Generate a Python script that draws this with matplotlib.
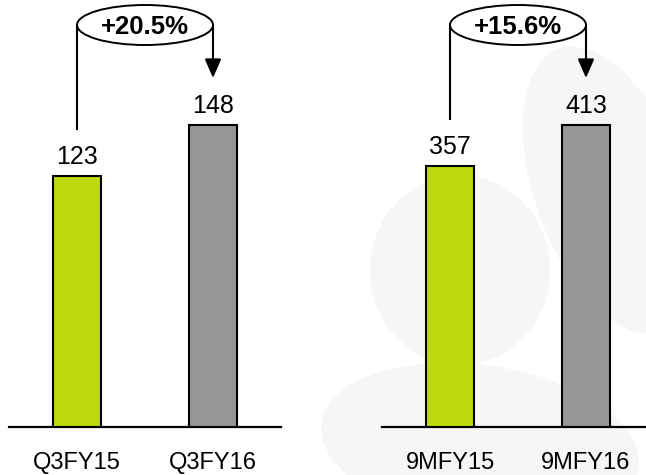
import matplotlib.pyplot as plt
import matplotlib.transforms as mtransforms
from matplotlib.patches import Ellipse
from matplotlib.lines import Line2D

plt.rcParams['font.family'] = ['Liberation Sans', 'DejaVu Sans']

# data
left_labels = ["Q3FY15", "Q3FY16"]
left_values = [123, 148]
left_growth = "+20.5%"

right_labels = ["9MFY15", "9MFY16"]
right_values = [357, 413]
right_growth = "+15.6%"

bar_colors = ["#bdd80b", "#969696"]

W, H = 646, 475
BASE = 427          # baseline, px from top
STEP = 136          # px between bar centres
px = mtransforms.IdentityTransform()

fig = plt.figure(figsize=(W / 100, H / 100), dpi=100)

# faint logo watermark in the background
for cx, cy, w, h, ang in [(460, 270, 180, 190, 0), (480, 445, 320, 160, -8),
                          (610, 190, 150, 300, 20)]:
    fig.add_artist(Ellipse((cx, H - cy), w, h, angle=ang, transform=px,
                           color="#f6f6f6", lw=0, zorder=0))


def panel(x0, x1, cats, vals, growth):
    ax = fig.add_axes([x0 / W, (H - BASE) / H, (x1 - x0) / W, BASE / H])
    ax.set_facecolor("none")
    xs = list(range(len(cats)))
    ax.bar(xs, vals, width=48 / STEP, color=bar_colors, edgecolor="black",
           linewidth=1.5, zorder=3)
    ax.set_xlim(-0.5, (x1 - x0) / STEP - 0.5)
    ax.set_ylim(0, max(vals) * BASE / 302)
    for s in ["top", "left", "right"]:
        ax.spines[s].set_visible(False)
    ax.spines["bottom"].set_linewidth(1.6)
    ax.set_yticks([])
    ax.set_xticks([])
    for x, v, c in zip(xs, vals, cats):
        ax.annotate(str(v), (x, v), xytext=(0, 12 * 0.72), textcoords="offset points",
                    ha="center", va="baseline", fontsize=18)
        # category label, baseline ~42 px below the axis line
        ax.annotate(c, (x, 0), xytext=(0, -42 * 0.72), textcoords="offset points",
                    ha="center", va="baseline", fontsize=17, annotation_clip=False)

    # growth arrow with ellipse label
    p0 = ax.transData.transform((xs[0], vals[0]))
    p1 = ax.transData.transform((xs[1], vals[1]))
    ey = H - 25
    fig.add_artist(Line2D([p0[0], p0[0]], [p0[1] + 47, ey], transform=px,
                          color="black", lw=1.5, zorder=4))
    ax.annotate("", xy=(p1[0], p1[1] + 47), xytext=(p1[0], ey),
                xycoords="figure pixels", textcoords="figure pixels",
                arrowprops=dict(arrowstyle="-|>,head_length=1.15,head_width=0.5",
                                mutation_scale=10, lw=1.5, color="black",
                                shrinkA=0, shrinkB=0), zorder=4)
    fig.add_artist(Ellipse(((p0[0] + p1[0]) / 2, ey), p1[0] - p0[0], 40,
                           transform=px, fc="white", ec="black", lw=1.4, zorder=5))
    fig.text((p0[0] + p1[0]) / 2, H - 34, growth, transform=px, ha="center",
             va="baseline", fontsize=18.5, fontweight="bold", zorder=6)


panel(9, 281, left_labels, left_values, left_growth)
panel(382, 660, right_labels, right_values, right_growth)

fig.savefig("out.png", dpi=100)
